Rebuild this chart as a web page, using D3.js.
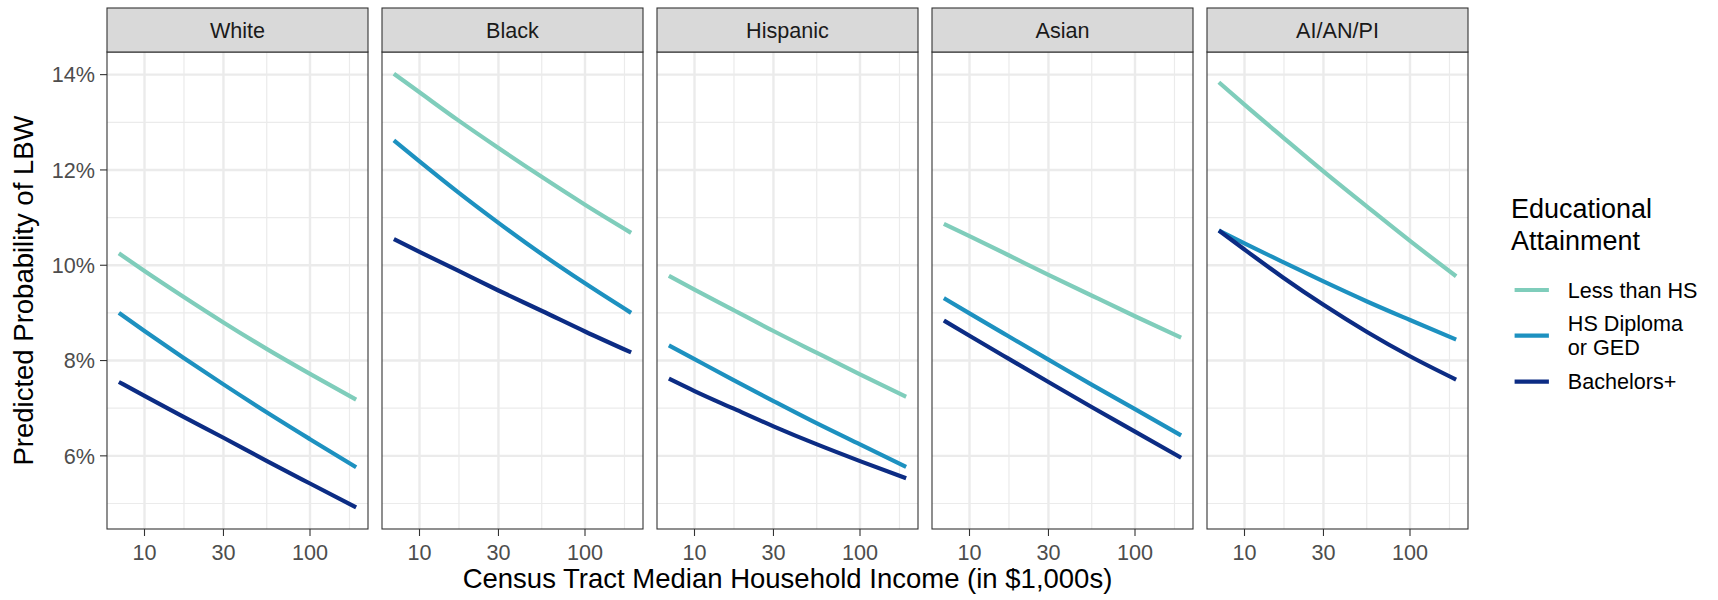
<!DOCTYPE html>
<html>
<head>
<meta charset="utf-8">
<script src="https://cdn.jsdelivr.net/npm/d3@7"></script>
<style>
  body { margin: 0; background: #ffffff; }
  svg { display: block; }
  text { font-family: "Liberation Sans", Arial, Helvetica, sans-serif; }
</style>
</head>
<body>
<svg id="chart" width="1718" height="600"></svg>
<script>
// Facets (maternal race/ethnicity)
const races = ["White", "Black", "Hispanic", "Asian", "AI/AN/PI"];

// Educational attainment groups, with legend label lines
const educationLevels = ["Less than HS", "HS Diploma or GED", "Bachelors+"];
const educationLabelLines = [["Less than HS"], ["HS Diploma", "or GED"], ["Bachelors+"]];
const educationColors = ["#7fcdbb", "#1d91c0", "#0c2c84"];

// Census tract median household income (in $1,000s) at which predictions are shown
const incomeThousands = [7, 10, 17, 30, 55, 100, 190];

// Predicted probability of LBW (%), one row per race in the order of `races`
const lessThanHS = [
  [10.25, 9.88, 9.35, 8.80, 8.24, 7.72, 7.18],
  [14.02, 13.63, 13.05, 12.46, 11.85, 11.27, 10.68],
  [9.78, 9.49, 9.07, 8.62, 8.16, 7.71, 7.24],
  [10.87, 10.61, 10.22, 9.80, 9.36, 8.93, 8.48],
  [13.84, 13.37, 12.69, 11.97, 11.23, 10.51, 9.77]
];
const hsDiplomaOrGED = [
  [9.00, 8.62, 8.07, 7.50, 6.91, 6.35, 5.76],
  [12.62, 12.18, 11.54, 10.89, 10.23, 9.62, 9.00],
  [8.32, 8.03, 7.60, 7.15, 6.68, 6.24, 5.77],
  [9.31, 8.99, 8.52, 8.02, 7.49, 6.98, 6.43],
  [10.73, 10.46, 10.07, 9.66, 9.24, 8.85, 8.44]
];
const bachelorsPlus = [
  [7.55, 7.26, 6.83, 6.38, 5.89, 5.42, 4.92],
  [10.55, 10.28, 9.89, 9.47, 9.04, 8.61, 8.17],
  [7.62, 7.36, 7.00, 6.62, 6.24, 5.89, 5.53],
  [8.84, 8.52, 8.05, 7.55, 7.02, 6.51, 5.96],
  [10.73, 10.33, 9.75, 9.17, 8.60, 8.09, 7.60]
];

// Axis breaks
const xTickValues = [10, 30, 100];
const xBreaksExtended = [3, 10, 30, 100, 300];
const yTickValues = [6, 8, 10, 12, 14];
const yMinorValues = [5, 7, 9, 11, 13];

const seriesByEducation = [lessThanHS, hsDiplomaOrGED, bachelorsPlus];

// Layout
const panelLeft = 107, panelWidth = 261, panelStep = 275;
const stripTop = 8, panelTop = 52, panelBottom = 529;
const tickLen = 7;

const svg = d3.select("#chart");

// Scales with a 5% expansion of the data range on each side
const logExt = d3.extent(incomeThousands).map(Math.log10);
const logPad = (logExt[1] - logExt[0]) * 0.05;
const x = d3.scaleLog()
  .domain([Math.pow(10, logExt[0] - logPad), Math.pow(10, logExt[1] + logPad)])
  .range([0, panelWidth]);

const allVals = [].concat(...seriesByEducation.map(s => [].concat(...s)));
const yExt = d3.extent(allVals);
const yPad = (yExt[1] - yExt[0]) * 0.05;
const y = d3.scaleLinear()
  .domain([yExt[0] - yPad, yExt[1] + yPad])
  .range([panelBottom, panelTop]);

// Minor x breaks sit halfway between major breaks on the log scale
const xMinor = d3.pairs(xBreaksExtended).map(([a, b]) => Math.sqrt(a * b))
  .filter(v => v >= x.domain()[0] && v <= x.domain()[1]);

const line = d3.line()
  .x(d => x(d[0]))
  .y(d => y(d[1]))
  .curve(d3.curveMonotoneX);

races.forEach((race, i) => {
  const g = svg.append("g").attr("transform", `translate(${panelLeft + i * panelStep},0)`);

  // panel background
  g.append("rect")
    .attr("x", 0).attr("y", panelTop)
    .attr("width", panelWidth).attr("height", panelBottom - panelTop)
    .attr("fill", "#ffffff");

  // minor grid
  g.selectAll(".ygm").data(yMinorValues).join("line")
    .attr("x1", 0).attr("x2", panelWidth)
    .attr("y1", d => y(d)).attr("y2", d => y(d))
    .attr("stroke", "#ebebeb").attr("stroke-width", 1.2);
  g.selectAll(".xgm").data(xMinor).join("line")
    .attr("x1", d => x(d)).attr("x2", d => x(d))
    .attr("y1", panelTop).attr("y2", panelBottom)
    .attr("stroke", "#ebebeb").attr("stroke-width", 1.2);

  // major grid
  g.selectAll(".ygM").data(yTickValues).join("line")
    .attr("x1", 0).attr("x2", panelWidth)
    .attr("y1", d => y(d)).attr("y2", d => y(d))
    .attr("stroke", "#ebebeb").attr("stroke-width", 2.4);
  g.selectAll(".xgM").data(xTickValues).join("line")
    .attr("x1", d => x(d)).attr("x2", d => x(d))
    .attr("y1", panelTop).attr("y2", panelBottom)
    .attr("stroke", "#ebebeb").attr("stroke-width", 2.4);

  // prediction curves
  seriesByEducation.forEach((series, k) => {
    const pts = incomeThousands.map((inc, j) => [inc, series[i][j]]);
    g.append("path")
      .datum(pts)
      .attr("d", line)
      .attr("fill", "none")
      .attr("stroke", educationColors[k])
      .attr("stroke-width", 4.2)
      .attr("stroke-linecap", "butt");
  });

  // panel border
  g.append("rect")
    .attr("x", 0).attr("y", panelTop)
    .attr("width", panelWidth).attr("height", panelBottom - panelTop)
    .attr("fill", "none").attr("stroke", "#333333").attr("stroke-width", 1.1);

  // strip
  g.append("rect")
    .attr("x", 0).attr("y", stripTop)
    .attr("width", panelWidth).attr("height", panelTop - stripTop)
    .attr("fill", "#d9d9d9").attr("stroke", "#333333").attr("stroke-width", 1.1);
  g.append("text")
    .attr("x", panelWidth / 2).attr("y", (stripTop + panelTop) / 2 + 7.8)
    .attr("text-anchor", "middle")
    .attr("font-size", 21.6).attr("fill", "#1a1a1a")
    .text(race);

  // x axis ticks and labels
  const xAxis = g.append("g");
  xAxis.selectAll("line").data(xTickValues).join("line")
    .attr("x1", d => x(d)).attr("x2", d => x(d))
    .attr("y1", panelBottom).attr("y2", panelBottom + tickLen)
    .attr("stroke", "#333333").attr("stroke-width", 1.1);
  xAxis.selectAll("text").data(xTickValues).join("text")
    .attr("x", d => x(d)).attr("y", 560)
    .attr("text-anchor", "middle")
    .attr("font-size", 21.6).attr("fill", "#4d4d4d")
    .text(d => d3.format("d")(d));
});

// y axis on the first panel
const yAxis = svg.append("g").attr("transform", `translate(${panelLeft},0)`);
yAxis.selectAll("line").data(yTickValues).join("line")
  .attr("x1", -tickLen).attr("x2", 0)
  .attr("y1", d => y(d)).attr("y2", d => y(d))
  .attr("stroke", "#333333").attr("stroke-width", 1.1);
yAxis.selectAll("text").data(yTickValues).join("text")
  .attr("x", -tickLen - 5).attr("y", d => y(d) + 7.7)
  .attr("text-anchor", "end")
  .attr("font-size", 21.6).attr("fill", "#4d4d4d")
  .text(d => d + "%");

// axis titles
const plotCenterX = (panelLeft + panelLeft + (races.length - 1) * panelStep + panelWidth) / 2;
svg.append("text")
  .attr("x", plotCenterX).attr("y", 588)
  .attr("text-anchor", "middle")
  .attr("font-size", 27.5).attr("fill", "#000000")
  .text("Census Tract Median Household Income (in $1,000s)");
svg.append("text")
  .attr("transform", `translate(33,${(panelTop + panelBottom) / 2}) rotate(-90)`)
  .attr("text-anchor", "middle")
  .attr("font-size", 27.5).attr("fill", "#000000")
  .text("Predicted Probability of LBW");

// legend
const legend = svg.append("g");
legend.append("text")
  .attr("x", 1511).attr("y", 218)
  .attr("font-size", 27).attr("fill", "#000000")
  .selectAll("tspan").data(["Educational", "Attainment"]).join("tspan")
  .attr("x", 1511).attr("dy", (d, i) => i === 0 ? 0 : 32)
  .text(d => d);

const keyY = [290, 335.6, 381.6];
educationLevels.forEach((lvl, k) => {
  legend.append("line")
    .attr("x1", 1514.6).attr("x2", 1548.9)
    .attr("y1", keyY[k]).attr("y2", keyY[k])
    .attr("stroke", educationColors[k]).attr("stroke-width", 4.2);
  const lines = educationLabelLines[k];
  const lh = 24;
  const firstBaseline = keyY[k] + 7.8 - (lines.length - 1) * lh / 2;
  legend.append("text")
    .attr("font-size", 21.6).attr("fill", "#000000")
    .selectAll("tspan").data(lines).join("tspan")
    .attr("x", 1567.8)
    .attr("y", (d, i) => firstBaseline + i * lh)
    .text(d => d);
});
</script>
</body>
</html>
